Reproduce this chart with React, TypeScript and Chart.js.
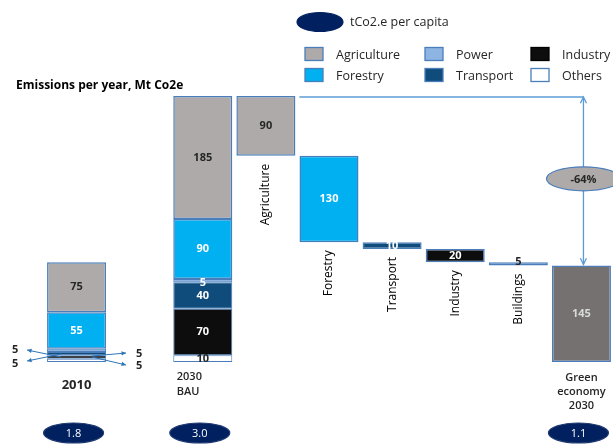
import React, { useEffect, useRef } from 'react';
import { Chart, registerables } from 'chart.js';

Chart.register(...registerables);

// ---------- data ----------
const categories = ['2010', '', '2030 BAU', 'Agriculture', 'Forestry', 'Transport', 'Industry', 'Buildings', 'Green economy 2030'];
const sectors = ['Others', 'Industry', 'Transport', 'Power', 'Forestry', 'Agriculture']; // bottom -> top
const values2010 = [5, 5, 5, 5, 55, 75];
const valuesBAU = [10, 70, 40, 5, 90, 185];
const reductionNames = ['Agriculture', 'Forestry', 'Transport', 'Industry', 'Buildings'];
const reductionValues = [90, 130, 10, 20, 5];
const reductionSectorColour = ['Agriculture', 'Forestry', 'Transport', 'Industry', 'Power'];
const greenValue = 145;
const perCapita = ['1.8', '3.0', '1.1'];
const reductionPct = '-64%';
const legendRow1 = ['Agriculture', 'Power', 'Industry'];
const legendRow2 = ['Forestry', 'Transport', 'Others'];

// ---------- styles ----------
const FONT = '"Open Sans", "DejaVu Sans", sans-serif';
const BORDER = '#4A7EBB';
const LINE = '#5B9BD5';
const NAVY = '#002060';
const TEXT = '#262626';
const sectorFill: Record<string, string> = {
  Others: '#FFFFFF',
  Industry: '#0D0D0D',
  Transport: '#0F4C7C',
  Power: '#8DB4E2',
  Forestry: '#00B0F0',
  Agriculture: '#AEAAAA',
};
const sectorText: Record<string, string> = {
  Others: TEXT,
  Industry: '#FFFFFF',
  Transport: '#FFFFFF',
  Power: '#FFFFFF',
  Forestry: '#FFFFFF',
  Agriculture: TEXT,
};
const GREEN_FILL = '#767171';

function cumulative(vals: number[]): number[] {
  const out: number[] = [];
  let s = 0;
  for (const v of vals) { out.push(s); s += v; }
  return out;
}

function arrowLine(ctx: CanvasRenderingContext2D, x1: number, y1: number, x2: number, y2: number, head: number, open = false) {
  ctx.beginPath();
  ctx.moveTo(x1, y1);
  ctx.lineTo(x2, y2);
  ctx.stroke();
  const a = Math.atan2(y2 - y1, x2 - x1);
  ctx.beginPath();
  ctx.moveTo(x2 - head * Math.cos(a - 0.45), y2 - head * Math.sin(a - 0.45));
  ctx.lineTo(x2, y2);
  ctx.lineTo(x2 - head * Math.cos(a + 0.45), y2 - head * Math.sin(a + 0.45));
  if (open) {
    ctx.stroke();
  } else {
    ctx.closePath();
    ctx.fill();
  }
}

function ellipseLabel(ctx: CanvasRenderingContext2D, cx: number, cy: number, rx: number, ry: number, fill: string, stroke: string, text: string, textColour: string, font: string) {
  ctx.beginPath();
  ctx.ellipse(cx, cy, rx, ry, 0, 0, Math.PI * 2);
  ctx.fillStyle = fill;
  ctx.fill();
  ctx.lineWidth = 1.2;
  ctx.strokeStyle = stroke;
  ctx.stroke();
  if (text) {
    ctx.fillStyle = textColour;
    ctx.font = font;
    ctx.textAlign = 'center';
    ctx.textBaseline = 'middle';
    ctx.fillText(text, cx, cy + 1);
  }
}

const overlayPlugin = {
  id: 'overlay',
  afterDraw(chart: any) {
    const ctx: CanvasRenderingContext2D = chart.ctx;
    const area = chart.chartArea;
    const nSectors = sectors.length;
    ctx.save();

    // ---- value labels for stacked bars ----
    for (let k = 0; k < nSectors; k++) {
      const meta = chart.getDatasetMeta(k);
      [0, 2].forEach((idx, j) => {
        const el = meta.data[idx];
        const val = (j === 0 ? values2010 : valuesBAU)[k];
        if (!el) return;
        if (j === 0 && val <= 5) return; // small 2010 slices labelled outside
        ctx.fillStyle = sectorText[sectors[k]];
        ctx.font = `bold 11px ${FONT}`;
        ctx.textAlign = 'center';
        ctx.textBaseline = 'middle';
        const cy = (el.y + el.base) / 2;
        ctx.fillText(String(val), el.x, cy + (val <= 5 ? 2 : 0));
      });
    }

    // ---- waterfall value labels + rotated names ----
    const redMeta = chart.getDatasetMeta(nSectors);
    reductionValues.forEach((v, i) => {
      const el = redMeta.data[3 + i];
      if (!el) return;
      const cy = (el.y + el.base) / 2;
      const sec = reductionSectorColour[i];
      ctx.fillStyle = sec === 'Power' ? TEXT : sectorText[sec];
      ctx.font = `bold 11px ${FONT}`;
      ctx.textAlign = 'center';
      ctx.textBaseline = 'middle';
      ctx.fillText(String(v), el.x, cy - (v <= 5 ? 2 : 0));
      const bottom = Math.max(el.y, el.base);
      ctx.save();
      ctx.translate(el.x, bottom + 8);
      ctx.rotate(-Math.PI / 2);
      ctx.fillStyle = '#000';
      ctx.font = `12px ${FONT}`;
      ctx.textAlign = 'right';
      ctx.textBaseline = 'middle';
      ctx.fillText(reductionNames[i], 0, 0);
      ctx.restore();
    });

    // ---- green bar label ----
    const gMeta = chart.getDatasetMeta(nSectors + 1);
    const gEl = gMeta.data[8];
    ctx.fillStyle = '#D9D9D9';
    ctx.font = `bold 11px ${FONT}`;
    ctx.textAlign = 'center';
    ctx.textBaseline = 'middle';
    ctx.fillText(String(greenValue), gEl.x, (gEl.y + gEl.base) / 2);

    // ---- connector and -64% arrow ----
    const agEl = redMeta.data[3];
    const topY = Math.min(agEl.y, agEl.base) + 1;
    const arrowX = gEl.x + 2;
    ctx.strokeStyle = LINE;
    ctx.fillStyle = LINE;
    ctx.lineWidth = 1.3;
    ctx.beginPath();
    ctx.moveTo(agEl.x + agEl.width / 2 + 4, topY);
    ctx.lineTo(arrowX, topY);
    ctx.stroke();
    const gTop = Math.min(gEl.y, gEl.base) - 1;
    const midY = (topY + gTop) / 2;
    arrowLine(ctx, arrowX, midY, arrowX, topY, 7, true);
    arrowLine(ctx, arrowX, midY, arrowX, gTop, 7, true);
    ellipseLabel(ctx, arrowX, midY - 2, 37, 12, '#AEAAAA', BORDER, reductionPct, TEXT, `bold 11px ${FONT}`);

    // ---- small 2010 labels with arrows ----
    const e2010 = chart.getDatasetMeta(0).data[0];
    const left = e2010.x - e2010.width / 2;
    const right = e2010.x + e2010.width / 2;
    const by = e2010.base; // bottom pixel
    ctx.strokeStyle = '#2E75B6';
    ctx.fillStyle = '#2E75B6';
    ctx.lineWidth = 1;
    arrowLine(ctx, left + 14, by - 5, left - 20, by - 12, 5);
    arrowLine(ctx, left + 14, by - 8, left - 20, by - 1, 5);
    arrowLine(ctx, right - 14, by - 6, right + 20, by - 9, 5);
    arrowLine(ctx, right - 14, by - 5, right + 20, by + 3, 5);
    ctx.fillStyle = TEXT;
    ctx.font = `bold 11px ${FONT}`;
    ctx.textAlign = 'center';
    ctx.textBaseline = 'middle';
    ctx.fillText(String(values2010[3]), left - 32, by - 12);
    ctx.fillText(String(values2010[2]), left - 32, by + 2);
    ctx.fillText(String(values2010[1]), right + 33, by - 8);
    ctx.fillText(String(values2010[0]), right + 33, by + 4);

    // ---- category labels ----
    const xs = chart.scales.x;
    ctx.fillStyle = TEXT;
    ctx.textBaseline = 'middle';
    ctx.textAlign = 'center';
    ctx.font = `bold 13px ${FONT}`;
    ctx.fillText(categories[0], xs.getPixelForValue(0), area.bottom + 23);
    ctx.font = `600 11px ${FONT}`;
    ctx.textAlign = 'left';
    const bauX = xs.getPixelForValue(2) - 26;
    const bauParts = categories[2].split(' ');
    ctx.fillText(bauParts[0], bauX, area.bottom + 15);
    ctx.fillText(bauParts[1], bauX, area.bottom + 30);
    ctx.textAlign = 'center';
    const gParts = ['Green', 'economy', '2030'];
    gParts.forEach((p, i) => ctx.fillText(p, xs.getPixelForValue(8), area.bottom + 16 + i * 14));

    // ---- per capita ellipses ----
    [0, 2, 8].forEach((idx, i) => {
      const cx = xs.getPixelForValue(idx) - 3;
      ellipseLabel(ctx, cx, area.bottom + 71, 30, 10, NAVY, '#1F3A70', perCapita[i], '#FFFFFF', `11px ${FONT}`);
    });

    // ---- title ----
    ctx.fillStyle = '#000';
    ctx.font = `bold 12px ${FONT}`;
    ctx.textAlign = 'left';
    ctx.textBaseline = 'middle';
    ctx.fillText('Emissions per year, Mt Co2e', 16, 86);

    // ---- legend ----
    ellipseLabel(ctx, 320, 22, 23, 9.5, NAVY, NAVY, '', '#fff', '');
    ctx.fillStyle = TEXT;
    ctx.font = `12.5px ${FONT}`;
    ctx.textAlign = 'left';
    ctx.fillText('tCo2.e per capita', 350, 22);
    const colX = [305, 425, 531];
    const rowY = [54, 75];
    [legendRow1, legendRow2].forEach((row, r) => {
      row.forEach((name, c) => {
        const bx = colX[c];
        const byy = rowY[r] - 6.5;
        ctx.fillStyle = sectorFill[name];
        ctx.fillRect(bx, byy, 18, 13);
        ctx.strokeStyle = name === 'Industry' ? '#000' : BORDER;
        ctx.lineWidth = 1.3;
        ctx.strokeRect(bx, byy, 18, 13);
        ctx.fillStyle = TEXT;
        ctx.font = `12.5px ${FONT}`;
        ctx.textBaseline = 'middle';
        ctx.fillText(name, bx + 31, rowY[r] + 1);
      });
    });

    ctx.restore();
  },
};

export default function App() {
  const ref = useRef<HTMLCanvasElement | null>(null);

  useEffect(() => {
    document.body.style.margin = '0';
    const canvas = ref.current;
    if (!canvas) return;

    const cum2010 = cumulative(values2010);
    const cumBAU = cumulative(valuesBAU);
    const bauTotal = valuesBAU.reduce((a, b) => a + b, 0);

    const datasets: any[] = sectors.map((s, k) => {
      const data: any[] = categories.map(() => null);
      data[0] = [cum2010[k], cum2010[k] + values2010[k]];
      data[2] = [cumBAU[k], cumBAU[k] + valuesBAU[k]];
      return {
        label: s,
        data,
        backgroundColor: sectorFill[s],
        borderColor: BORDER,
        borderWidth: values2010[k] <= 5 ? 1 : 1.5,
      };
    });

    const redData: any[] = categories.map(() => null);
    let remaining = bauTotal;
    reductionValues.forEach((v, i) => {
      redData[3 + i] = [remaining - v, remaining];
      remaining -= v;
    });
    datasets.push({
      label: 'Reductions',
      data: redData,
      backgroundColor: categories.map((_, i) => (i >= 3 && i < 8 ? sectorFill[reductionSectorColour[i - 3]] : 'transparent')),
      borderColor: BORDER,
      borderWidth: 1.5,
    });

    const gData: any[] = categories.map(() => null);
    gData[8] = [0, greenValue];
    datasets.push({
      label: 'Green economy 2030',
      data: gData,
      backgroundColor: GREEN_FILL,
      borderColor: BORDER,
      borderWidth: 1.5,
    });

    const chart = new Chart(canvas, {
      type: 'bar',
      data: { labels: categories, datasets },
      options: {
        responsive: false,
        animation: false,
        devicePixelRatio: 1,
        layout: { padding: { left: 45, right: 0, top: 96, bottom: 82 } },
        datasets: {
          bar: {
            grouped: false,
            categoryPercentage: 1,
            barPercentage: 0.935,
            borderSkipped: false,
          },
        } as any,
        scales: {
          x: { display: false, offset: true },
          y: { display: false, min: 0, max: 400 },
        },
        plugins: {
          legend: { display: false },
          tooltip: { enabled: false },
        },
      },
      plugins: [overlayPlugin],
    });

    return () => chart.destroy();
  }, []);

  return <canvas ref={ref} width={613} height={444} style={{ display: 'block' }} />;
}
